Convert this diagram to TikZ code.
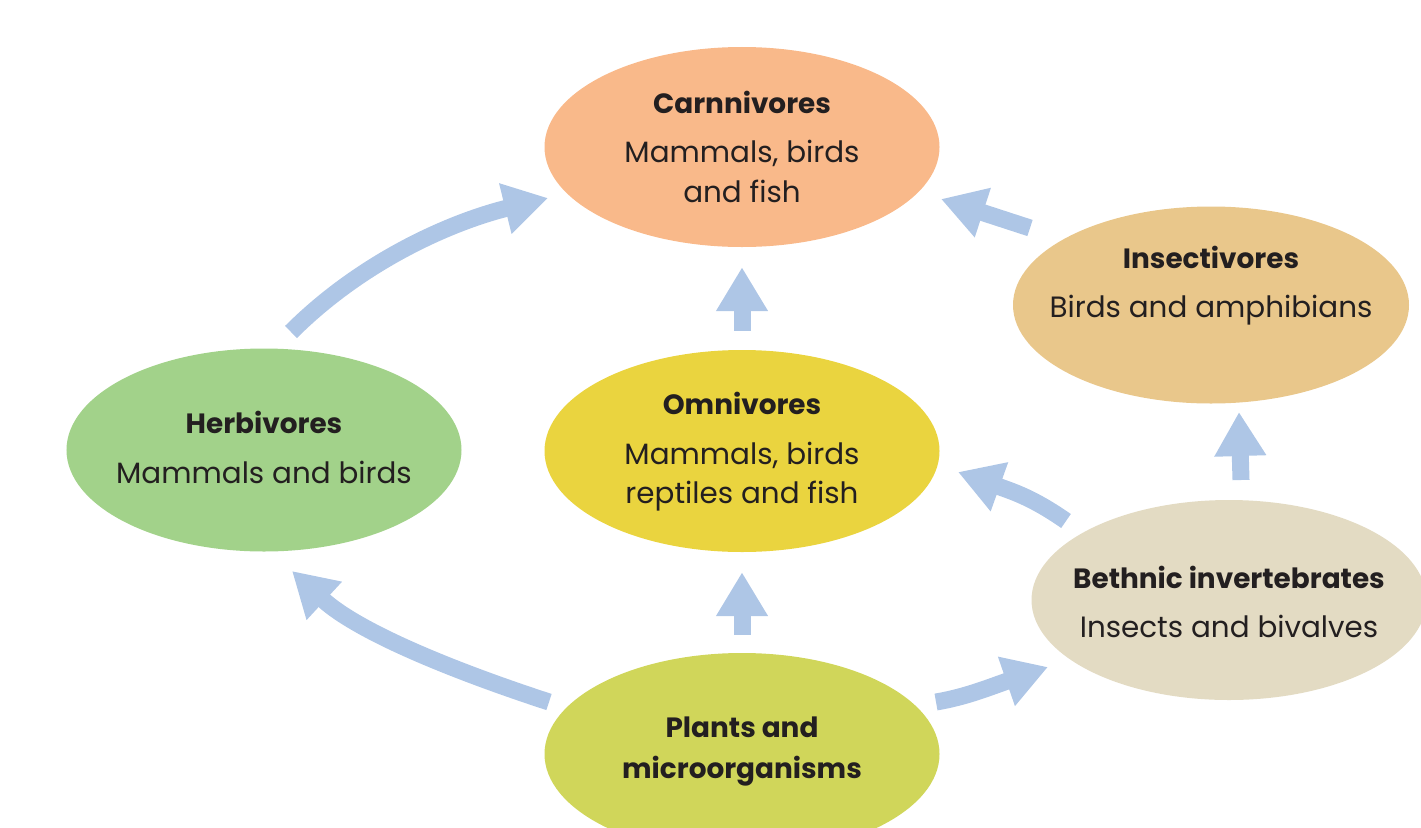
\documentclass[tikz,border=0pt]{standalone}
\usepackage{fontspec}
\setmainfont{Poppins}
\usetikzlibrary{shapes.geometric,arrows.meta}
\definecolor{txtc}{HTML}{231F20}
\definecolor{arrc}{HTML}{AEC6E6}
\definecolor{carnc}{HTML}{F9B98A}
\definecolor{insc}{HTML}{E9C78B}
\definecolor{herbc}{HTML}{A2D28A}
\definecolor{omnic}{HTML}{EAD43F}
\definecolor{bethc}{HTML}{E3DBC3}
\definecolor{plantc}{HTML}{D0D65A}
\tikzset{
  box/.style={ellipse, draw=none, inner sep=0pt, minimum width=395bp, minimum height=200bp},
  ttl/.style={anchor=base, inner sep=0pt, text=txtc, font=\fontsize{28}{30}\selectfont\bfseries},
  sub/.style={anchor=base, inner sep=0pt, text=txtc, font=\fontsize{29.5}{30}\selectfont},
  flow/.style={draw=arrc, line width=17bp, line cap=butt, -{Triangle[length=44bp, width=49bp]}}
}
\begin{document}
\begin{tikzpicture}[x=1bp, y=-1bp]
\useasboundingbox (0,0) rectangle (1421,827);
\clip (0,0) rectangle (1421,827);
% boxes
\node[box, fill=carnc] (carn) at (742,147) {};
\node[box, fill=insc, minimum width=396bp, minimum height=197bp] (ins) at (1211,305) {};
\node[box, fill=herbc, minimum height=203bp] (herb) at (264,450) {};
\node[box, fill=omnic, minimum height=202bp] (omni) at (742,451) {};
\node[box, fill=bethc] (beth) at (1229,600) {};
\node[box, fill=plantc, minimum height=202bp] (plant) at (742,754) {};
% texts
\node[ttl] (carn1) at (742,113) {Carnnivores};
\node[sub] (carn2) at (742,162) {Mammals, birds};
\node[sub] (carn3) at (742,202) {and fish};
\node[ttl] (ins1) at (1211,268) {Insectivores};
\node[sub] (ins2) at (1211,317) {Birds and amphibians};
\node[ttl] (herb1) at (264,433) {Herbivores};
\node[sub] (herb2) at (264,483) {Mammals and birds};
\node[ttl] (omni1) at (742,414) {Omnivores};
\node[sub] (omni2) at (742,464) {Mammals, birds};
\node[sub] (omni3) at (742,503) {reptiles and fish};
\node[ttl] (beth1) at (1229,588) {Bethnic invertebrates};
\node[sub] (beth2) at (1229,637) {Insects and bivalves};
\node[ttl] (plant1) at (742,737) {Plants and};
\node[ttl] (plant2) at (742,778) {microorganisms};
% connector end points
\coordinate (hcS) at (291,332); \coordinate (hcE) at (548,198);
\coordinate (icS) at (1030,228); \coordinate (icE) at (941,199);
\coordinate (biS) at (1241,480); \coordinate (biE) at (1239,412);
\coordinate (boS) at (1066,521); \coordinate (boE) at (958,472);
\coordinate (phS) at (549,702); \coordinate (phE) at (292,571);
\coordinate (pbS) at (936,702); \coordinate (pbE) at (1048,667);
% connectors
\draw[flow] (hcS) .. controls (362,261) and (451,222) .. (hcE);
\draw[flow] (icS) -- (icE);
\draw[flow, shorten <=19bp, shorten >=20bp] (omni.north) -- (carn.south);
\draw[flow] (biS) -- (biE);
\draw[flow] (boS) .. controls (1033,498) and (1014,492) .. (boE);
\draw[flow, shorten <=18bp, shorten >=20bp] (plant.north) -- (omni.south);
\draw[flow] (phS) .. controls (454,671) and (358,632) .. (phE);
\draw[flow] (pbS) .. controls (966,697) and (990,687) .. (pbE);
\end{tikzpicture}
\end{document}
